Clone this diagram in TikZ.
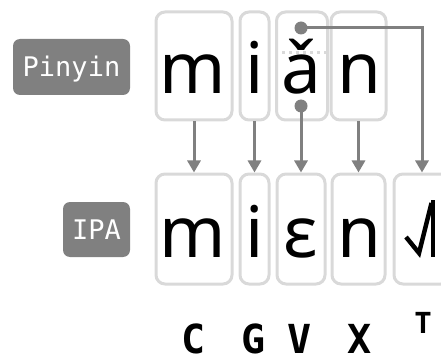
\documentclass[tikz,border=0pt]{standalone}
\usepackage{fontspec}
\setmainfont{Noto Sans}
\newfontfamily\monofont{DejaVu Sans Mono}
\usetikzlibrary{arrows.meta}
\definecolor{boxgray}{HTML}{D9D9D9}
\definecolor{midgray}{HTML}{808080}
\begin{document}
\begin{tikzpicture}[x=1pt,y=-1pt,
  lbox/.style={draw=boxgray,line width=3pt,rounded corners=9pt,inner sep=0pt},
  prow/.style={lbox,minimum height=108pt},
  irow/.style={lbox,minimum height=110pt},
  pill/.style={fill=midgray,rounded corners=7pt,text=white,inner sep=0pt,
    font=\monofont\fontsize{27}{27}\selectfont,text height=20pt,text depth=0pt},
  letter/.style={anchor=base,inner sep=0pt,font=\fontsize{71}{71}\selectfont},
  conn/.style={draw=midgray,line width=3pt,-{Triangle[length=12pt,width=13pt]}},
  pdot/.style={circle,fill=midgray,minimum size=13pt,inner sep=0pt},
  cat/.style={anchor=base,inner sep=0pt,text depth=0pt,font=\monofont\bfseries\fontsize{40}{40}\selectfont},
  tonestroke/.style={line width=4.5pt,black}]
\useasboundingbox (0,0) rectangle (441,358);

% labels
\node[pill,minimum width=117pt,minimum height=56pt] (lpin) at (71.5,67) {Pinyin};
\node[pill,minimum width=67pt,minimum height=55pt] (lipa) at (96.5,229.5) {IPA};

% pinyin boxes
\node[prow,minimum width=76pt] (pm) at (194,66) {};
\node[prow,minimum width=29pt] (pi) at (254.5,66) {};
\node[prow,minimum width=51pt] (pa) at (302,66) {};
\node[prow,minimum width=55pt] (pn) at (358.5,66) {};
\draw[boxgray,line width=3pt,dash pattern=on 3pt off 4pt] (pa.west |- 0,53) -- (pa.east |- 0,53);

% ipa boxes
\node[irow,minimum width=76pt] (qm) at (194,229) {};
\node[irow,minimum width=29pt] (qi) at (254.5,229) {};
\node[irow,minimum width=48pt] (qe) at (301,229) {};
\node[irow,minimum width=53pt] (qn) at (358.5,229) {};
\node[irow,minimum width=56pt] (qt) at (422,229) {};

% pinyin letters
\node[letter] (tm) at (193,94) {m};
\node[letter] (ti) at (254.5,94) {i};
\node[letter] (ta) at (301,94) {ǎ};
\node[letter] (tn) at (359,94) {n};

% ipa letters
\node[letter] (um) at (193,257) {m};
\node[letter] (ui) at (254.5,257) {i};
\node[letter] (ue) at (301,257) {ɛ};
\node[letter] (un) at (359,257) {n};

% tone contour (2-1-4)
\draw[tonestroke,line join=miter] (406,237) -- (419,253) -- (431.5,203);
\draw[tonestroke] (433,200) -- (433,257);

% dots
\node[pdot] (dtop) at (301,28) {};
\node[pdot] (dbot) at (301,106) {};

% connectors
\draw[conn] (pm.south) -- (qm.north);
\draw[conn] (pi.south) -- (qi.north);
\draw[conn] (dbot.center) -- (dbot.center |- qe.north);
\draw[conn] (pn.south) -- (qn.north);
\draw[conn] (dtop.center) -- (dtop.center -| qt.north) -- (qt.north);

% categories
\node[cat] (cc) at (194,353) {C};
\node[cat] (cg) at (254,353) {G};
\node[cat] (cv) at (300,353) {V};
\node[cat] (cx) at (360,353) {X};
\node[cat,font=\monofont\bfseries\fontsize{29}{29}\selectfont] (ct) at (423,333) {T};
\end{tikzpicture}
\end{document}
